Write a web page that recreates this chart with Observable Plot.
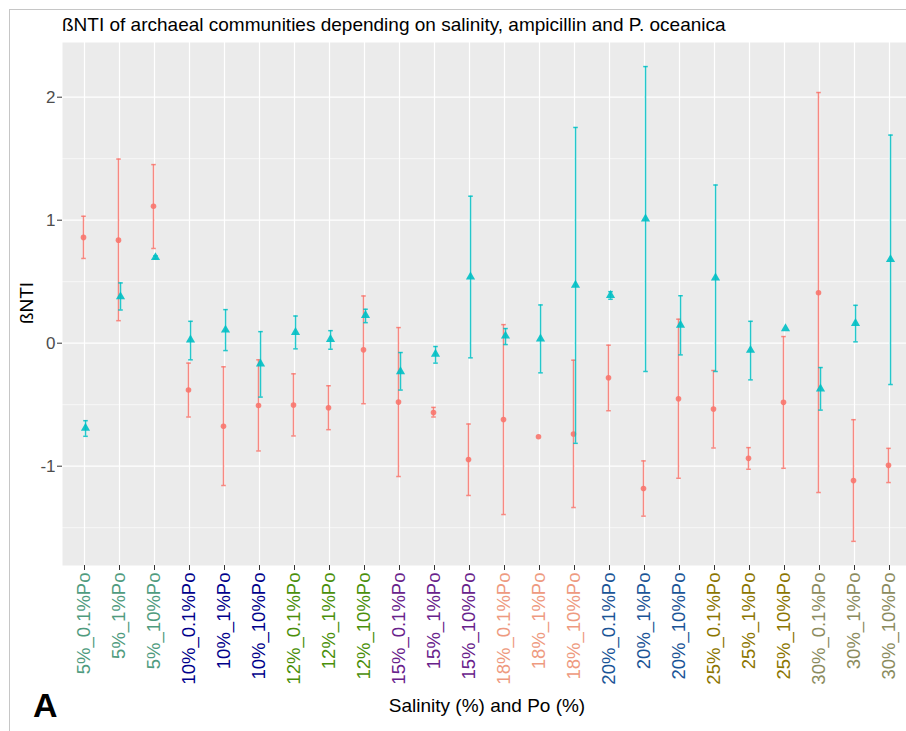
<!DOCTYPE html>
<html>
<head>
<meta charset="utf-8">
<script src="https://cdn.jsdelivr.net/npm/d3@7"></script>
<script src="https://cdn.jsdelivr.net/npm/@observablehq/plot@0.6"></script>
<style>
  body { margin: 0; background: #fff; }
  #page { position: relative; width: 906px; height: 731px; overflow: hidden; background: #fff;
          font-family: "Liberation Sans", Arial, Helvetica, sans-serif; color: #000; }
  #edge { position: absolute; left: 9px; top: 9px; right: -4px; bottom: -4px;
          border-top: 1.5px solid #c6c6c6; border-left: 1.5px solid #c6c6c6; }
  #chart { position: absolute; left: 0; top: 0; }
  .lbl { position: absolute; white-space: nowrap; line-height: 1; }
  #title { left: 62px; top: 15px; font-size: 19px; }
  #ytitle { left: 26px; top: 303px; font-size: 19px; transform: translate(-50%, -50%) rotate(-90deg); }
  #xtitle { left: 487px; top: 705px; font-size: 19px; transform: translate(-50%, -50%); }
  #tag { left: 33px; top: 688px; font-size: 34px; font-weight: bold; }
</style>
</head>
<body>
<div id="page">
  <div id="edge"></div>
  <div id="chart"></div>
  <div id="title" class="lbl">ßNTI of archaeal communities depending on salinity, ampicillin and P. oceanica</div>
  <div id="ytitle" class="lbl">ßNTI</div>
  <div id="xtitle" class="lbl">Salinity (%) and Po (%)</div>
  <div id="tag" class="lbl">A</div>
</div>
<script>
// Treatments: salinity (%) crossed with Posidonia oceanica amount (%)
const categories = [
  "5%_0.1%Po", "5%_1%Po", "5%_10%Po",
  "10%_0.1%Po", "10%_1%Po", "10%_10%Po",
  "12%_0.1%Po", "12%_1%Po", "12%_10%Po",
  "15%_0.1%Po", "15%_1%Po", "15%_10%Po",
  "18%_0.1%Po", "18%_1%Po", "18%_10%Po",
  "20%_0.1%Po", "20%_1%Po", "20%_10%Po",
  "25%_0.1%Po", "25%_1%Po", "25%_10%Po",
  "30%_0.1%Po", "30%_1%Po", "30%_10%Po"
];

// Tick label colour for each salinity level
const salinityLevels = ["5%", "10%", "12%", "15%", "18%", "20%", "25%", "30%"];
const salinityColors = ["#4f9b7e", "#00008b", "#4a8f0a", "#68228b", "#ee9a80", "#1a5496", "#8b7500", "#8b8b5e"];

// First series (red, circles): mean βNTI and error-bar limits
const redMean = [0.86, 0.838, 1.113, -0.381, -0.676, -0.506, -0.503, -0.525, -0.054, -0.479, -0.563, -0.946,
                 -0.62, -0.76, -0.738, -0.281, -1.182, -0.452, -0.535, -0.936, -0.481, 0.41, -1.117, -0.993];
const redLo = [0.689, 0.183, 0.77, -0.6, -1.157, -0.876, -0.754, -0.703, -0.492, -1.084, -0.6, -1.238,
               -1.393, null, -1.336, -0.549, -1.406, -1.098, -0.852, -1.025, -1.017, -1.214, -1.611, -1.133];
const redHi = [1.032, 1.497, 1.452, -0.162, -0.192, -0.135, -0.249, -0.346, 0.384, 0.127, -0.522, -0.657,
               0.151, null, -0.138, -0.016, -0.957, 0.195, -0.222, -0.849, 0.054, 2.038, -0.622, -0.855];

// Second series (cyan, triangles): mean βNTI and error-bar limits
const cyanMean = [-0.69, 0.378, 0.697, 0.027, 0.108, -0.168, 0.089, 0.032, 0.227, -0.23, -0.089, 0.54,
                  0.059, 0.035, 0.473, 0.389, 1.011, 0.148, 0.532, -0.057, 0.119, -0.371, 0.162, 0.681];
const cyanLo = [-0.757, 0.27, 0.685, -0.135, -0.06, -0.438, -0.046, -0.049, 0.167, -0.381, -0.162, -0.119,
                -0.011, -0.241, -0.814, 0.357, -0.23, -0.095, -0.23, -0.298, null, -0.544, 0.011, -0.336];
const cyanHi = [-0.63, 0.49, 0.71, 0.178, 0.273, 0.094, 0.221, 0.102, 0.276, -0.076, -0.027, 1.195,
                0.119, 0.311, 1.754, 0.419, 2.249, 0.386, 1.286, 0.178, null, -0.198, 0.308, 1.692];

const majorY = [-1, 0, 1, 2];
const minorY = [-1.5, -0.5, 0.5, 1.5];

const RED = "#F8766D";
const CYAN = "#00BFC4";

const rows = (mean, lo, hi) => categories.map((cat, i) => ({cat, mean: mean[i], lo: lo[i], hi: hi[i]}));
const red = rows(redMean, redLo, redHi);
const cyan = rows(cyanMean, cyanLo, cyanHi);
const withBar = d => d.lo != null && d.hi != null;

const labelColor = cat => salinityColors[salinityLevels.indexOf(cat.split("_")[0])];

// Short horizontal stroke used as the error-bar cap
const capSymbol = {
  draw(context, size) {
    const w = Math.sqrt(size / Math.PI);
    context.moveTo(-w, 0);
    context.lineTo(w, 0);
  }
};

function errorMarks(data, color, dx) {
  const bars = data.filter(withBar);
  return [
    Plot.ruleX(bars, {x: "cat", y1: "lo", y2: "hi", stroke: color, strokeWidth: 1.5, strokeOpacity: 0.85, dx}),
    Plot.dot(bars, {x: "cat", y: "hi", symbol: capSymbol, r: 2.3, stroke: color, strokeWidth: 1.5, strokeOpacity: 0.85, fill: "none", dx}),
    Plot.dot(bars, {x: "cat", y: "lo", symbol: capSymbol, r: 2.3, stroke: color, strokeWidth: 1.5, strokeOpacity: 0.85, fill: "none", dx})
  ];
}

const chart = Plot.plot({
  width: 906,
  height: 731,
  marginLeft: 62,
  marginRight: 0,
  marginTop: 42,
  marginBottom: 166,
  style: {background: "transparent", fontFamily: "'Liberation Sans', Arial, sans-serif"},
  x: {type: "point", domain: categories, range: [82.7, 890.3], padding: 0, axis: null},
  y: {type: "linear", domain: [-1, 2], range: [465.7, 96.7], axis: null},
  color: {type: "identity"},
  marks: [
    Plot.frame({fill: "#ebebeb", stroke: "none"}),
    Plot.ruleY(minorY, {stroke: "#fff", strokeWidth: 0.6}),
    Plot.ruleY(majorY, {stroke: "#fff", strokeWidth: 1.2}),
    Plot.ruleX(categories, {x: d => d, stroke: "#fff", strokeWidth: 1.2}),
    Plot.axisY({ticks: majorY, tickFormat: d => String(d), tickSize: 5, tickPadding: 2, fontSize: 17, stroke: "#333", fill: "#4d4d4d", label: null}),
    Plot.axisX({tickSize: 5, tickFormat: () => "", stroke: "#333", label: null}),
    Plot.text(categories, {
      x: d => d, text: d => d, frameAnchor: "bottom", rotate: -90,
      textAnchor: "end", lineAnchor: "middle", dy: 7, fontSize: 18.5, fill: d => labelColor(d)
    }),
    ...errorMarks(red, RED, -1),
    Plot.dot(red, {x: "cat", y: "mean", r: 2.8, fill: RED, fillOpacity: 0.9, stroke: "none", dx: -1}),
    ...errorMarks(cyan, CYAN, 1),
    Plot.dot(cyan, {x: "cat", y: "mean", symbol: "triangle", r: 3.4, fill: CYAN, fillOpacity: 0.9, stroke: "none", dx: 1})
  ]
});

document.getElementById("chart").appendChild(chart);
</script>
</body>
</html>
